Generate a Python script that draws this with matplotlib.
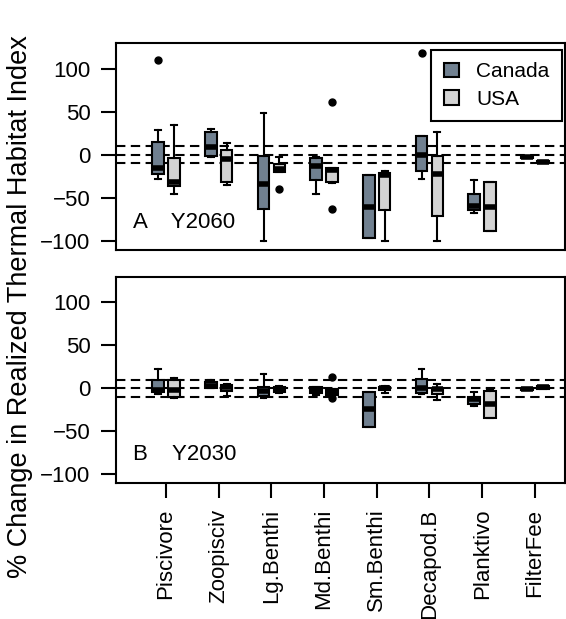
import numpy as np
import matplotlib
matplotlib.use("Agg")
import matplotlib.pyplot as plt
from matplotlib.patches import Patch

plt.rcParams['font.family'] = ['Liberation Sans', 'DejaVu Sans']

groups = ['Piscivore', 'Zoopisciv', 'Lg.Benthi', 'Md.Benthi',
          'Sm.Benthi', 'Decapod.B', 'Planktivo', 'FilterFee']

# box stats per group: (whislo, q1, med, q3, whishi)
y2060_canada = [(-28, -22, -15, 15, 29), (-2, -1, 9, 27, 30), (-100, -63, -34, -1, 49),
                (-46, -29, -13, -4, -2), (-97, -97, -60, -24, -24), (-28, -19, 0, 22, 22),
                (-67, -64, -59, -45, -29), (-4, -4, -3, -2, -2)]
y2060_canada_out = [[110], [], [], [], [], [118], [], []]
y2060_usa = [(-45, -36, -32, -4, 34), (-35, -31, -5, 5, 14), (-20, -20, -16, -11, -3),
             (-33, -31, -18, -15, -15), (-100, -64, -23, -21, -19), (-100, -71, -22, -1, 27),
             (-88, -88, -60, -32, -32), (-9, -9, -8, -7, -7)]
y2060_usa_out = [[], [], [-40], [61, -63], [], [], [], []]

y2030_canada = [(-7, -4, -2, 9, 22), (0, 0, 3, 7, 10), (-11, -9, -3, 1, 16),
                (-8, -6, -2, 1, 1), (-45, -45, -24, -4, -4), (-7, -6, 0, 11, 22),
                (-21, -19, -13, -10, -5), (-2, -2, -1, 0, 0)]
y2030_canada_out = [[], [], [], [], [], [], [], []]
y2030_usa = [(-12, -10, -2, 9, 12), (-9, -3, 1, 4, 5), (-6, -5, -1, 1, 2),
             (-9, -8, -4, -1, -1), (-6, -2, 0, 1, 2), (-14, -7, -1, 0, 5),
             (-35, -35, -18, -3, -1), (-1, -1, 1, 2, 3)]
y2030_usa_out = [[], [], [], [13, -12], [], [], [], []]

canada_col = '#708090'
usa_col = '#d3d3d3'


def make_stats(rows, outs):
    stats = []
    for (lo, q1, med, q3, hi), fl in zip(rows, outs):
        stats.append(dict(whislo=lo, q1=q1, med=med, q3=q3, whishi=hi, fliers=fl))
    return stats


def draw_panel(ax, canada, canada_out, usa, usa_out, label):
    x = np.arange(1, len(groups) + 1)
    for ref in (10, 0, -10):
        ax.axhline(ref, color='black', lw=1.5, ls=(0, (4.5, 2.6)), zorder=1)
    for rows, outs, off, col in ((canada, canada_out, -0.15, canada_col),
                                 (usa, usa_out, 0.15, usa_col)):
        ax.bxp(make_stats(rows, outs), positions=x + off, widths=0.22,
               patch_artist=True, manage_ticks=False,
               boxprops=dict(facecolor=col, edgecolor='black', linewidth=1.5),
               medianprops=dict(color='black', linewidth=4, solid_capstyle='butt'),
               whiskerprops=dict(color='black', linewidth=1.5),
               capprops=dict(color='black', linewidth=1.5),
               flierprops=dict(marker='o', markerfacecolor='black',
                               markeredgecolor='black', markersize=5))
    ax.set_xlim(0.05, 8.57)
    ax.set_ylim(-110.5, 130)
    ax.set_yticks([-100, -50, 0, 50, 100])
    ax.tick_params(axis='both', direction='out', length=10.5, width=1.5,
                   labelsize=16, pad=8)
    for s in ax.spines.values():
        s.set_linewidth(1.5)
    ax.text(0.038, 0.135, label, transform=ax.transAxes, fontsize=16,
            ha='left', va='center')


fig = plt.figure(figsize=(5.66, 6.19), dpi=100)
ax1 = fig.add_axes([0.205, 0.596, 0.793, 0.335])
ax2 = fig.add_axes([0.205, 0.220, 0.793, 0.333])

draw_panel(ax1, y2060_canada, y2060_canada_out, y2060_usa, y2060_usa_out, 'A    Y2060')
draw_panel(ax2, y2030_canada, y2030_canada_out, y2030_usa, y2030_usa_out, 'B    Y2030')

ax1.set_xticks([])
ax2.set_xticks(np.arange(1, len(groups) + 1))
ax2.set_xticklabels(groups, rotation=90, fontsize=16)

handles = [Patch(facecolor=canada_col, edgecolor='black', linewidth=1.5, label='Canada'),
           Patch(facecolor=usa_col, edgecolor='black', linewidth=1.5, label='USA')]
leg = ax1.legend(handles=handles, loc='upper right', bbox_to_anchor=(0.993, 0.966),
                 fontsize=15, fancybox=False, framealpha=1, edgecolor='black',
                 handlelength=0.75, handleheight=0.7, borderpad=0.6, labelspacing=0.4,
                 handletextpad=0.8, borderaxespad=0)
leg.get_frame().set_linewidth(1.5)

fig.text(0.035, 0.505, '% Change in Realized Thermal Habitat Index', rotation=90,
         fontsize=19.5, ha='center', va='center')

fig.savefig('out.png', dpi=100)
